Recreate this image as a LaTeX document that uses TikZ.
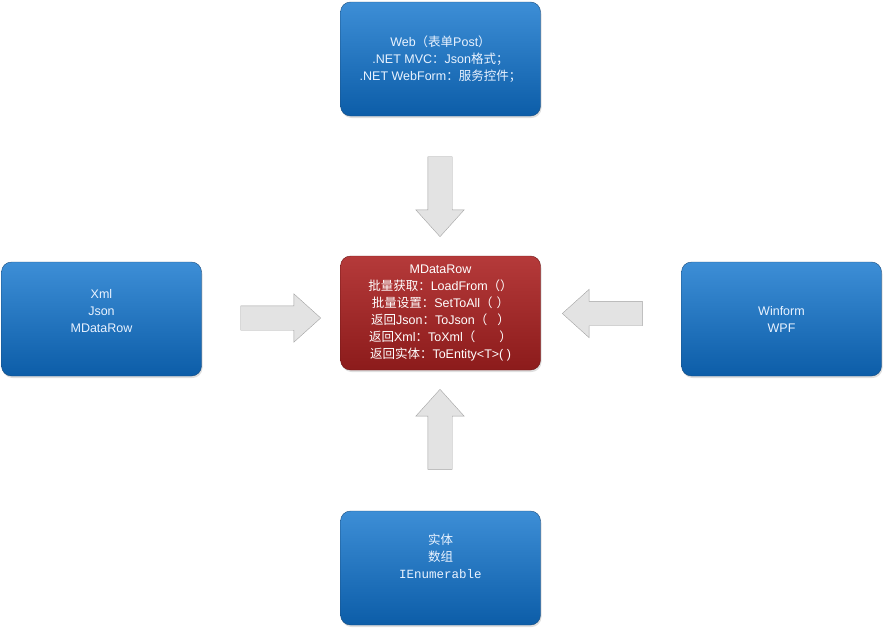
\documentclass[tikz,border=0pt]{standalone}
\usepackage{fontspec}
\setmainfont{Liberation Sans}
\setmonofont{Liberation Mono}
\newfontfamily\cjk{Noto Sans CJK SC}
\newcommand\zh[1]{{\cjk #1}}
\usetikzlibrary{shapes.arrows,shadows}
\definecolor{boxtop}{HTML}{3D8ED6}
\definecolor{boxbot}{HTML}{0C5DA8}
\definecolor{boxline}{HTML}{1C4F80}
\definecolor{redtop}{HTML}{B53A3A}
\definecolor{redbot}{HTML}{8C1B1B}
\definecolor{redline}{HTML}{6E1717}
\definecolor{arrfill}{HTML}{E3E3E3}
\definecolor{arrline}{HTML}{A3A3A3}
\definecolor{boxtext}{HTML}{EAF3FF}
\tikzset{
  bluebox/.style={rounded corners=10pt, draw=boxline, top color=boxtop, bottom color=boxbot,
    minimum width=200pt, minimum height=114pt, text=boxtext, align=center,
    font=\fontsize{12.5}{17}\selectfont,
    drop shadow={opacity=0.25, shadow xshift=1pt, shadow yshift=-2pt}},
  redbox/.style={bluebox, draw=redline, top color=redtop, bottom color=redbot, text=white},
  bigarrow/.style={single arrow, draw=arrline, fill=arrfill, minimum height=80pt,
    minimum width=48pt, inner xsep=0pt, inner ysep=12pt, single arrow head extend=12pt,
    single arrow tip angle=84, anchor=tip}
}
\begin{document}
\begin{tikzpicture}[x=1pt,y=-1pt]
    \useasboundingbox (0,0) rectangle (884,629);
    % boxes
    \node [redbox] (core) at (440.5,313) {MDataRow\\
        \zh{批量获取：}LoadFrom\zh{（）}\\
        \zh{批量设置：}SetToAll\zh{（}\hspace{4pt}\zh{）}\\
        \zh{返回}Json\zh{：}ToJson\zh{（}\hspace{10pt}\zh{）}\\
        \zh{返回}Xml\zh{：}ToXml\zh{（}\hspace{24pt}\zh{）}\\
        \zh{返回实体：}ToEntity<T>( )};
    \node [bluebox] (web) at (440.5,59) {Web\zh{（表单}Post\zh{）}\\
        .NET MVC\zh{：}Json\zh{格式；}\\
        .NET WebForm\zh{：服务控件；}};
    \node [bluebox, text depth=23pt] (entity) at (440.5,568) {\zh{实体}\\ \zh{数组}\\ {\ttfamily IEnumerable}};
    \node [bluebox, text depth=17pt] (source) at (101.5,319) {Xml\\ Json\\ MDataRow};
    \node [bluebox] (client) at (781.5,319) {Winform\\ WPF};
    % block arrows, placed by their tips
    \node [bigarrow, rotate=-90] (fromweb) at (440,237) {};
    \node [bigarrow, rotate=90] (fromentity) at (440,389) {};
    \node [bigarrow] (fromsource) at (321,318) {};
    \node [bigarrow, rotate=180] (fromclient) at (562,313.5) {};
\end{tikzpicture}
\end{document}
